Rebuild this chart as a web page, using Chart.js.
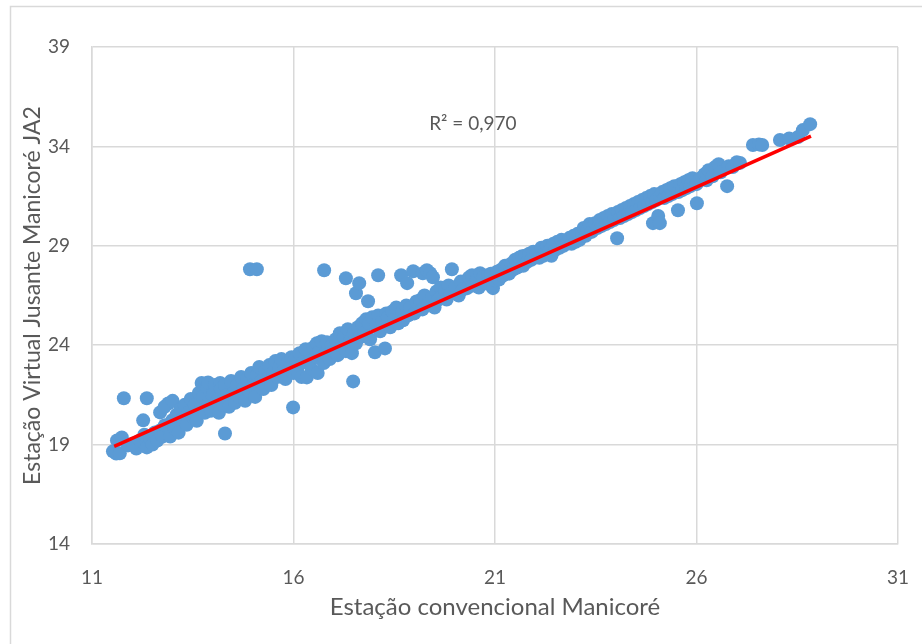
<!DOCTYPE html>
<html>
<head>
<meta charset="utf-8">
<script src="https://cdn.jsdelivr.net/npm/chart.js@4/dist/chart.umd.min.js"></script>
<style>
    body { margin: 0; background: #ffffff; }
    #wrap { width: 922px; height: 644px; position: relative; }
</style>
</head>
<body>
<div id="wrap"><canvas id="scatterChart"></canvas></div>
<script>
// Estação convencional (x) vs Estação virtual (y)
const xValues = [
    // 11.5 - 13
    11.52, 11.60, 11.69, 11.62, 11.74, 11.79, 11.89, 12.02, 12.10, 12.19,
    12.27, 12.36, 12.36, 12.30, 12.44, 12.50, 12.56, 12.62, 12.69, 12.69,
    12.75, 12.81, 12.89, 12.94, 12.99, 12.80, 13.05, 13.00,
    // 13 - 16
    13.10, 13.15, 13.20, 13.25, 13.30, 13.35, 13.40, 13.45, 13.50, 13.55,
    13.60, 13.65, 13.70, 13.72, 13.75, 13.80, 13.85, 13.88, 13.90, 13.95,
    14.00, 14.05, 14.10, 14.15, 14.18, 14.20, 14.25, 14.30, 14.30, 14.35,
    14.40, 14.45, 14.50, 14.55, 14.60, 14.65, 14.70, 14.75, 14.80, 14.85,
    14.90, 14.92, 14.95, 15.00, 15.05, 15.09, 15.10, 15.15, 15.20, 15.25,
    15.30, 15.35, 15.40, 15.45, 15.50, 15.55, 15.60, 15.65, 15.70, 15.75,
    15.80, 15.85, 15.90, 15.95, 15.99, 16.00,
    // 16 - 21
    16.05, 16.10, 16.15, 16.20, 16.24, 16.30, 16.33, 16.40, 16.45, 16.50,
    16.55, 16.58, 16.60, 16.65, 16.70, 16.76, 16.75, 16.80, 16.83, 16.90,
    16.95, 17.00, 17.05, 17.10, 17.15, 17.20, 17.25, 17.30, 17.30, 17.35,
    17.40, 17.45, 17.48, 17.50, 17.55, 17.55, 17.60, 17.63, 17.65, 17.70,
    17.75, 17.80, 17.85, 17.87, 17.90, 17.95, 18.02, 18.05, 18.10, 18.10,
    18.15, 18.20, 18.27, 18.30, 18.34, 18.40, 18.45, 18.50, 18.55, 18.60,
    18.67, 18.70, 18.72, 18.80, 18.82, 18.85, 18.89, 18.97, 19.00, 19.05,
    19.14, 19.21, 19.20, 19.25, 19.31, 19.35, 19.39, 19.44, 19.46, 19.50,
    19.55, 19.60, 19.65, 19.70, 19.76, 19.80, 19.85, 19.93, 19.90, 20.01,
    20.10, 20.15, 20.20, 20.31, 20.35, 20.43, 20.45, 20.55, 20.63, 20.60,
    20.70, 20.83, 20.80, 20.90, 20.95, 21.00,
    // 21 - 26
    21.05, 21.10, 21.15, 21.20, 21.25, 21.30, 21.35, 21.40, 21.45, 21.50,
    21.55, 21.60, 21.67, 21.70, 21.75, 21.80, 21.85, 21.90, 21.95, 22.04,
    22.10, 22.15, 22.20, 22.25, 22.30, 22.36, 22.40, 22.45, 22.50, 22.55,
    22.60, 22.65, 22.70, 22.79, 22.85, 22.90, 22.95, 23.00, 23.05, 23.10,
    23.16, 23.20, 23.25, 23.30, 23.35, 23.40, 23.48, 23.55, 23.60, 23.65,
    23.70, 23.75, 23.80, 23.85, 23.90, 23.95, 24.03, 24.05, 24.10, 24.15,
    24.20, 24.25, 24.30, 24.35, 24.40, 24.45, 24.50, 24.55, 24.60, 24.65,
    24.70, 24.75, 24.80, 24.85, 24.92, 24.90, 24.95, 25.00, 25.05, 25.09,
    25.10, 25.15, 25.20, 25.25, 25.30, 25.35, 25.40, 25.45, 25.54, 25.55,
    25.60, 25.65, 25.70, 25.75, 25.80, 25.85, 25.90, 26.01, 26.00,
    // 26 - 29
    26.10, 26.20, 26.25, 26.30, 26.40, 26.46, 26.55, 26.60, 26.76, 26.80,
    26.90, 27.00, 27.08, 27.40, 27.55, 27.63, 28.07, 28.30, 28.52, 28.64,
    28.82
];

const yValues = [
    // 11.5 - 13
    18.66, 18.55, 18.56, 19.21, 19.36, 21.33, 18.96, 19.06, 18.80, 19.21,
    20.22, 21.33, 18.86, 19.50, 19.31, 19.00, 19.61, 19.20, 20.62, 19.71,
    19.40, 19.97, 21.07, 19.41, 20.22, 20.90, 19.80, 21.20,
    // 13 - 16
    20.50, 19.60, 20.80, 20.30, 21.00, 20.00, 20.60, 21.30, 20.40, 21.00,
    20.20, 21.60, 20.80, 22.10, 21.40, 20.60, 21.90, 22.13, 21.10, 20.70,
    21.50, 22.00, 21.20, 20.60, 22.10, 21.80, 21.00, 19.56, 22.00, 21.50,
    20.90, 22.20, 21.60, 21.10, 22.00, 21.40, 22.40, 21.80, 21.20, 22.30,
    21.70, 27.82, 22.60, 22.00, 21.40, 27.82, 22.50, 22.90, 22.20, 21.80,
    22.70, 22.30, 23.00, 22.00, 22.60, 23.20, 22.40, 22.90, 23.30, 22.70,
    22.30, 23.10, 22.80, 23.40, 20.87, 22.60,
    // 16 - 21
    23.30, 22.70, 23.60, 22.40, 23.14, 23.80, 22.38, 23.20, 22.80, 23.90,
    23.40, 24.10, 22.60, 23.70, 24.20, 27.77, 23.10, 23.60, 24.15, 23.30,
    24.00, 23.70, 24.30, 23.50, 24.60, 23.90, 24.40, 27.37, 23.70, 24.80,
    24.20, 23.60, 22.18, 24.60, 26.61, 24.10, 24.90, 27.12, 24.40, 25.10,
    24.60, 25.30, 26.21, 25.10, 24.30, 25.40, 23.64, 25.00, 27.52, 25.50,
    24.70, 25.20, 23.84, 25.60, 25.40, 24.90, 25.70, 25.30, 25.90, 25.10,
    27.52, 25.70, 25.25, 26.00, 27.12, 25.50, 25.86, 27.72, 25.60, 26.20,
    26.26, 27.62, 25.80, 26.50, 27.77, 26.10, 27.62, 26.41, 27.42, 25.90,
    26.70, 26.30, 26.90, 26.50, 26.76, 26.30, 27.00, 27.82, 26.60, 26.92,
    26.50, 27.20, 26.80, 26.87, 27.40, 27.52, 27.00, 27.27, 27.62, 26.90,
    27.40, 27.52, 27.10, 27.60, 26.87, 27.27,
    // 21 - 26
    27.70, 27.30, 27.80, 27.50, 28.00, 27.92, 27.60, 28.10, 27.80, 28.30,
    27.90, 28.40, 28.48, 28.00, 28.50, 28.20, 28.60, 28.30, 28.70, 28.63,
    28.40, 28.90, 28.50, 28.80, 29.00, 28.78, 28.50, 29.10, 28.80, 29.20,
    28.90, 29.30, 29.00, 29.13, 29.40, 29.10, 29.50, 29.20, 29.60, 29.30,
    29.63, 29.90, 29.50, 29.80, 30.10, 29.70, 30.14, 29.90, 30.30, 30.00,
    30.40, 30.10, 30.50, 30.20, 30.60, 30.30, 29.38, 30.70, 30.40, 30.80,
    30.50, 30.90, 30.60, 31.00, 30.70, 31.10, 30.80, 31.20, 30.90, 31.30,
    31.00, 31.40, 31.10, 31.50, 30.14, 31.20, 31.60, 31.30, 30.50, 30.14,
    31.50, 31.70, 31.40, 31.80, 31.50, 31.90, 31.60, 32.00, 30.79, 31.70,
    32.10, 31.80, 32.20, 31.90, 32.30, 32.00, 32.40, 31.14, 32.10,
    // 26 - 29
    32.40, 32.60, 32.30, 32.80, 32.50, 32.96, 33.10, 32.70, 32.00, 33.00,
    32.96, 33.20, 33.17, 34.07, 34.10, 34.07, 34.32, 34.40, 34.47, 34.82,
    35.12
];

// linha de tendência
const trendX = [11.55, 28.84];
const trendY = [18.91, 34.52];

const xTicks = [11, 16, 21, 26, 31];
const yTicks = [14, 19, 24, 29, 34, 39];

const rSquaredLabel = 'R² = 0,970';
const rSquaredPos = { x: 20.45, y: 35.12 };

const points = xValues.map((x, i) => ({ x: x, y: yValues[i] }));
const trendPoints = trendX.map((x, i) => ({ x: x, y: trendY[i] }));

const textColor = '#595959';
const gridColor = '#d9d9d9';
const fontFamily = 'Lato, "Liberation Sans", sans-serif';

// moldura externa e texto do R²
const extrasPlugin = {
    id: 'extras',
    beforeDraw(chart) {
        const c = chart.ctx;
        c.save();
        c.strokeStyle = gridColor;
        c.lineWidth = 1.5;
        c.strokeRect(10.5, 6.5, 1200, 1200);
        c.restore();
    },
    afterDraw(chart) {
        const c = chart.ctx;
        const px = chart.scales.x.getPixelForValue(rSquaredPos.x);
        const py = chart.scales.y.getPixelForValue(rSquaredPos.y);
        c.save();
        c.fillStyle = textColor;
        c.font = '19px ' + fontFamily;
        c.textAlign = 'center';
        c.textBaseline = 'middle';
        c.fillText(rSquaredLabel, px, py);
        c.restore();
    }
};

new Chart(document.getElementById('scatterChart'), {
    type: 'scatter',
    data: {
        datasets: [
            {
                label: 'Tendência',
                data: trendPoints,
                showLine: true,
                borderColor: '#ff0000',
                borderWidth: 3.5,
                pointRadius: 0,
                order: 0
            },
            {
                label: 'Dados',
                data: points,
                backgroundColor: '#5b9bd5',
                borderWidth: 0,
                pointRadius: 7,
                pointHoverRadius: 7,
                order: 1
            }
        ]
    },
    options: {
        responsive: true,
        maintainAspectRatio: false,
        animation: false,
        layout: { padding: { left: 10, top: 47, right: 24, bottom: 0 } },
        plugins: {
            legend: { display: false },
            tooltip: { enabled: false }
        },
        scales: {
            x: {
                min: 11,
                max: 31,
                afterBuildTicks: (scale) => { scale.ticks = xTicks.map(v => ({ value: v })); },
                afterFit: (scale) => {
                    scale.height = 100;
                    scale.paddingLeft = 0;
                    scale.paddingRight = 0;
                },
                grid: { color: gridColor, lineWidth: 1.5, drawTicks: false },
                border: { color: gridColor, width: 1.5 },
                ticks: {
                    color: textColor,
                    padding: 22,
                    font: { family: fontFamily, size: 19 }
                },
                title: {
                    display: true,
                    text: 'Estação convencional Manicoré',
                    color: textColor,
                    font: { family: fontFamily, size: 24 },
                    padding: { top: 0, bottom: 22 }
                }
            },
            y: {
                min: 14,
                max: 39,
                afterBuildTicks: (scale) => { scale.ticks = yTicks.map(v => ({ value: v })); },
                afterFit: (scale) => {
                    scale.width = 82;
                    scale.paddingTop = 0;
                    scale.paddingBottom = 0;
                },
                grid: { color: gridColor, lineWidth: 1.5, drawTicks: false },
                border: { color: gridColor, width: 1.5 },
                ticks: {
                    color: textColor,
                    padding: 22,
                    font: { family: fontFamily, size: 19 }
                },
                title: {
                    display: true,
                    text: 'Estação Virtual Jusante Manicoré JA2',
                    color: textColor,
                    font: { family: fontFamily, size: 23 },
                    padding: { top: 9, bottom: 0 }
                }
            }
        }
    },
    plugins: [extrasPlugin]
});
</script>
</body>
</html>
